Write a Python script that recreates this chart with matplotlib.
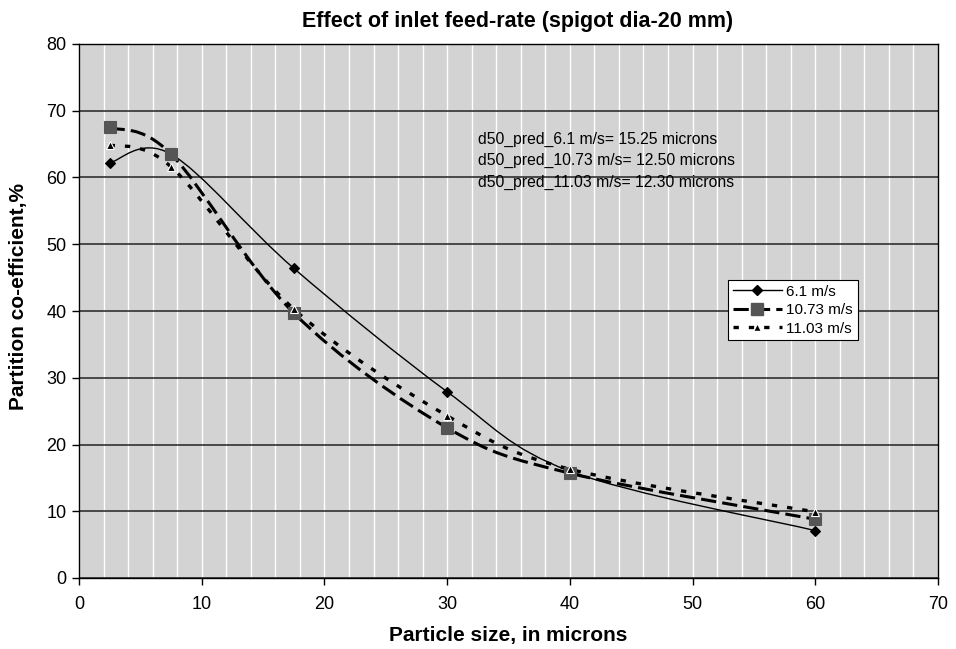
import matplotlib
matplotlib.use("Agg")
import matplotlib.pyplot as plt
from matplotlib.path import Path
from matplotlib.patches import PathPatch
from matplotlib.lines import Line2D
import numpy as np

plt.rcParams['font.family'] = ['Liberation Sans', 'DejaVu Sans']

# Particle size classes (microns)
size = [2.5, 7.5, 17.5, 30, 40, 60]

# Partition coefficient (%) for each inlet velocity
p_61 = [62.2, 63.5, 46.4, 27.9, 16.0, 7.1]
p_1073 = [67.5, 63.5, 39.7, 22.5, 15.7, 8.8]
p_1103 = [64.9, 61.6, 40.3, 24.3, 16.3, 9.9]

labels = ["6.1 m/s", "10.73 m/s", "11.03 m/s"]
notes = ["d50_pred_6.1 m/s= 15.25 microns",
         "d50_pred_10.73 m/s= 12.50 microns",
         "d50_pred_11.03 m/s= 12.30 microns"]


def smooth_path(x, y):
    """Cubic Bezier path through the points (Catmull-Rom style smoothing)."""
    pts = np.column_stack([x, y]).astype(float)
    n = len(pts)
    verts = [pts[0]]
    codes = [Path.MOVETO]
    for i in range(n - 1):
        p0 = pts[max(i - 1, 0)]
        p1 = pts[i]
        p2 = pts[i + 1]
        p3 = pts[min(i + 2, n - 1)]
        c1 = p1 + (p2 - p0) / 6.0
        c2 = p2 - (p3 - p1) / 6.0
        verts += [c1, c2, p2]
        codes += [Path.CURVE4] * 3
    return Path(verts, codes)


W, H = 956, 649
fig = plt.figure(figsize=(W / 100, H / 100), dpi=100)
ax = fig.add_axes([79 / W, 1 - 578 / H, (938 - 79) / W, (578 - 44) / H])
ax.set_facecolor('#d3d3d3')

ax.set_xlim(0, 70)
ax.set_ylim(0, 80)
ax.set_xticks(np.arange(0, 71, 10))
ax.set_yticks(np.arange(0, 81, 10))
ax.set_xticks(np.arange(0, 71, 2), minor=True)

ax.grid(True, which='minor', axis='x', color='white', lw=1.0)
ax.grid(True, which='major', axis='x', color='white', lw=1.0)
ax.grid(True, which='major', axis='y', color='#222222', lw=1.1)
ax.set_axisbelow(True)
ax.tick_params(which='minor', length=0)
ax.tick_params(which='major', direction='out', length=5, width=1, labelsize=13)
ax.tick_params(axis='x', pad=8)
ax.tick_params(axis='y', pad=4)
for s in ax.spines.values():
    s.set_color('black')
    s.set_linewidth(1.0)

styles = [
    dict(ls='-', lw=1.0, marker='D', ms=5.5, mfc='black', mec='black'),
    dict(ls=(0, (5, 2)), lw=2.2, marker='s', ms=9, mfc='#555555', mec='#555555'),
    dict(ls=(0, (1.6, 3)), lw=2.4, marker='^', ms=6, mfc='black', mec='white'),
]
series = [p_61, p_1073, p_1103]

handles = []
for vals, st, lab in zip(series, styles, labels):
    patch = PathPatch(smooth_path(size, vals), facecolor='none', edgecolor='black',
                      lw=st['lw'], linestyle=st['ls'], zorder=3)
    ax.add_patch(patch)
    ax.plot(size, vals, ls='none', marker=st['marker'], ms=st['ms'],
            mfc=st['mfc'], mec=st['mec'], mew=0.8, zorder=4)
    handles.append(Line2D([], [], color='black', lw=st['lw'], ls=st['ls'],
                          marker=st['marker'], ms=st['ms'], mfc=st['mfc'],
                          mec=st['mec'], label=lab))

leg = ax.legend(handles=handles, loc='upper left', bbox_to_anchor=(0.756, 0.558),
                frameon=True, fancybox=False, edgecolor='black', framealpha=1,
                fontsize=11, handlelength=3.2, borderpad=0.3, labelspacing=0.3,
                handletextpad=0.3, borderaxespad=0)
leg.get_frame().set_linewidth(0.8)

# annotation lines, placed by figure pixel position
for i, t in enumerate(notes):
    fig.text(478 / W, 1 - (139 + 21.5 * i) / H, t, fontsize=11.3, va='center',
             ha='left')

fig.text(518 / W, 1 - 22 / H, "Effect of inlet feed-rate (spigot dia-20 mm)",
         ha='center', va='center', fontsize=15.5, fontweight='bold')
fig.text(508 / W, 1 - 636 / H, "Particle size, in microns",
         ha='center', va='center', fontsize=15, fontweight='bold')
fig.text(19 / W, 1 - 296 / H, "Partition co-efficient,%", rotation=90,
         ha='center', va='center', fontsize=15, fontweight='bold')

fig.savefig("out.png", dpi=100)
